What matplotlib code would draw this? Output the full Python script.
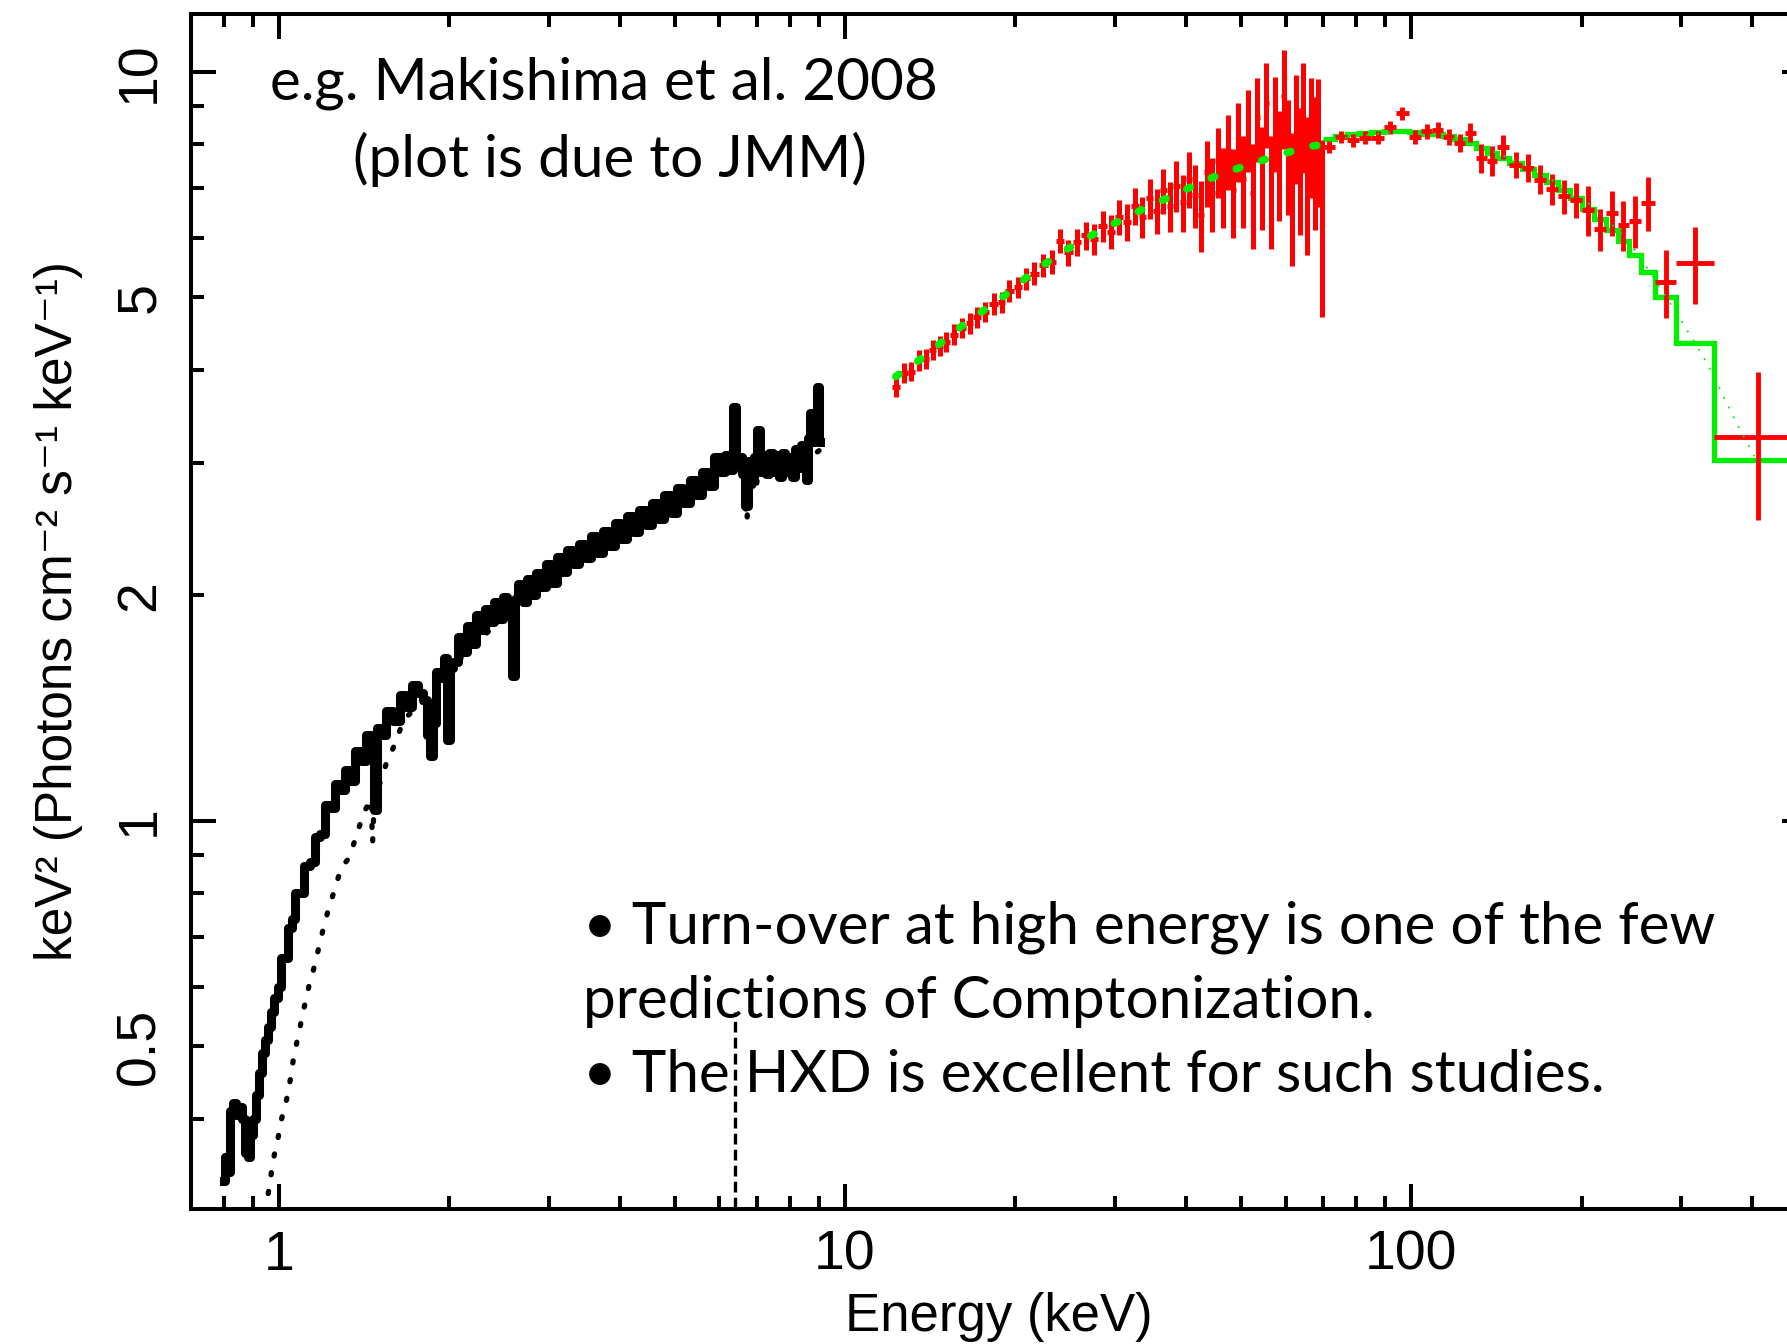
import matplotlib.pyplot as plt
from matplotlib import font_manager
import numpy as np

# narrow Helvetica-like face for the axes text, if it is there
_names = {f.name for f in font_manager.fontManager.ttflist}
AXFONT = 'Liberation Sans Narrow' if 'Liberation Sans Narrow' in _names else 'Liberation Sans'
plt.rcParams['font.family'] = [AXFONT, 'DejaVu Sans']

# XIS spectrum (black), keV and keV^2 photons cm^-2 s^-1 keV^-1
xis_e = [0.800, 0.808, 0.816, 0.826, 0.836, 0.846, 0.856, 0.866, 0.876, 0.886,
         0.897, 0.907, 0.917, 0.926, 0.940, 0.953, 0.965, 0.976, 0.990, 1.004,
         1.018, 1.033, 1.047, 1.06, 1.08, 1.10, 1.12, 1.148, 1.17, 1.196,
         1.22, 1.245, 1.27, 1.297, 1.32, 1.35, 1.38, 1.41, 1.44, 1.466,
         1.48, 1.50, 1.53, 1.57, 1.61, 1.66, 1.70, 1.74, 1.78, 1.81,
         1.84, 1.86, 1.88, 1.91, 1.94, 1.97, 2.00, 2.02, 2.05, 2.09,
         2.13, 2.17, 2.21, 2.25, 2.29, 2.33, 2.38, 2.42, 2.46, 2.51,
         2.56, 2.60, 2.63, 2.67, 2.72, 2.77, 2.82, 2.88, 2.94, 3.00,
         3.06, 3.13, 3.20, 3.27, 3.35, 3.43, 3.51, 3.60, 3.69, 3.78,
         3.87, 3.97, 4.07, 4.17, 4.28, 4.39, 4.50, 4.62, 4.74, 4.86,
         4.99, 5.12, 5.25, 5.38, 5.52, 5.66, 5.80, 5.95, 6.08, 6.20,
         6.30, 6.39, 6.46, 6.55, 6.63, 6.71, 6.79, 6.87, 6.95, 7.03,
         7.11, 7.20, 7.30, 7.40, 7.50, 7.60, 7.70, 7.80, 7.90, 8.00,
         8.10, 8.20, 8.30, 8.40, 8.50, 8.56, 8.64, 8.74, 8.82, 8.90,
         8.95, 9.02]
xis_f = [0.33, 0.356, 0.34, 0.41, 0.42, 0.405, 0.415, 0.40, 0.36, 0.355,
         0.38, 0.40, 0.43, 0.46, 0.49, 0.51, 0.53, 0.555, 0.58, 0.60,
         0.655, 0.655, 0.72, 0.74, 0.80, 0.80, 0.87, 0.88, 0.95, 0.96,
         1.05, 1.04, 1.12, 1.10, 1.17, 1.13, 1.24, 1.20, 1.30, 1.27,
         1.034, 1.33, 1.30, 1.40, 1.36, 1.47, 1.42, 1.52, 1.48, 1.45,
         1.30, 1.22, 1.35, 1.58, 1.55, 1.65, 1.28, 1.60, 1.63, 1.76,
         1.68, 1.82, 1.72, 1.88, 1.80, 1.92, 1.84, 1.96, 1.86, 1.99,
         1.90, 1.56, 1.98, 2.07, 1.96, 2.10, 2.00, 2.14, 2.05, 2.20,
         2.08, 2.25, 2.15, 2.30, 2.20, 2.34, 2.24, 2.40, 2.28, 2.44,
         2.33, 2.50, 2.38, 2.55, 2.43, 2.60, 2.48, 2.66, 2.53, 2.72,
         2.58, 2.78, 2.66, 2.85, 2.72, 2.92, 2.80, 3.06, 2.92, 3.08,
         2.94, 3.57, 2.98, 3.06, 2.90, 2.63, 3.02, 2.88, 3.06, 3.33,
         2.92, 3.08, 2.90, 3.10, 2.92, 3.08, 2.88, 3.10, 2.92, 3.06,
         2.88, 3.14, 2.96, 3.18, 3.00, 2.85, 3.24, 3.50, 3.20, 3.38,
         3.80, 3.20]

# XIS model component (black dotted)
xmod_e = [0.945, 0.964, 0.976, 0.996, 1.012, 1.033, 1.05, 1.063, 1.085, 1.107,
          1.13, 1.158, 1.177, 1.20, 1.225, 1.26, 1.29, 1.33, 1.37, 1.41,
          1.455, 1.465, 1.475, 1.496, 1.55, 1.60, 1.66, 1.75, 1.84, 1.95,
          2.1, 2.4, 2.8, 3.3, 4.0, 4.8, 5.6, 6.2, 6.6, 6.71,
          6.8, 6.93, 7.05, 7.5, 8.2, 9.0]
xmod_f = [0.30, 0.326, 0.35, 0.375, 0.40, 0.425, 0.454, 0.484, 0.52, 0.56,
          0.60, 0.642, 0.677, 0.72, 0.763, 0.816, 0.868, 0.89, 0.952, 1.02,
          1.07, 0.935, 1.07, 1.10, 1.195, 1.26, 1.36, 1.42, 1.46, 1.55,
          1.65, 1.82, 2.02, 2.22, 2.42, 2.63, 2.82, 2.92, 2.93, 2.51,
          2.92, 2.74, 2.93, 2.92, 2.97, 3.12]

# iron line component
fe_e = [6.4, 6.4]
fe_f = [0.25, 0.556]

# HXD-PIN data (red) and model (green dotted)
pin_e = [12.3, 12.7, 13.1, 13.5, 13.9, 14.3, 14.7, 15.1, 15.6, 16.1,
         16.6, 17.1, 17.7, 18.3, 18.9, 19.5, 20.2, 20.9, 21.6, 22.4,
         23.2, 24.0, 24.8, 25.7, 26.6, 27.5, 28.5, 29.5, 30.5, 31.5,
         32.5, 33.5, 34.5, 35.5, 36.5, 37.5, 38.5, 39.5, 40.5, 41.5,
         42.5, 43.5, 44.5, 45.5, 46.5, 47.5, 48.5, 49.5, 50.5, 51.5,
         52.5, 53.5, 54.5, 55.5, 56.5, 57.5, 58.5, 59.5, 60.5, 61.5,
         62.5, 63.5, 64.5, 65.5, 66.5, 67.5, 68.5, 69.5]
pin_f = [3.80, 3.96, 3.98, 4.12, 4.14, 4.25, 4.31, 4.36, 4.46, 4.55,
         4.62, 4.70, 4.78, 4.90, 4.93, 5.10, 5.16, 5.30, 5.38, 5.52,
         5.58, 5.95, 5.74, 5.92, 6.05, 5.98, 6.22, 6.12, 6.40, 6.30,
         6.62, 6.40, 6.78, 6.52, 6.95, 6.62, 7.05, 6.70, 7.20, 6.85,
         6.45, 7.35, 6.90, 7.60, 7.05, 7.85, 6.95, 8.10, 7.20, 8.40,
         6.90, 8.70, 7.30, 9.10, 7.00, 8.60, 7.60, 9.30, 7.80, 6.90,
         8.50, 7.50, 8.80, 7.20, 8.30, 7.70, 8.20, 6.40]
pin_err = [0.12, 0.12, 0.12, 0.13, 0.13, 0.13, 0.13, 0.14, 0.14, 0.14,
           0.15, 0.15, 0.15, 0.16, 0.16, 0.17, 0.17, 0.18, 0.19, 0.20,
           0.21, 0.22, 0.23, 0.24, 0.26, 0.28, 0.30, 0.32, 0.34, 0.36,
           0.38, 0.40, 0.42, 0.45, 0.48, 0.50, 0.55, 0.58, 0.62, 0.66,
           0.70, 0.74, 0.78, 0.82, 0.86, 0.90, 0.94, 0.98, 1.02, 1.06,
           1.10, 1.12, 1.15, 1.18, 1.20, 1.24, 1.28, 1.40, 1.36, 1.40,
           1.42, 1.45, 1.48, 1.50, 1.52, 1.55, 1.60, 1.70]
pmod_e = [12.3, 13.4, 14.4, 15.5, 16.7, 18.2, 19.5, 21.0, 22.7, 24.6, 26.7,
          29.1, 31.6, 34.5, 37.8, 41.0, 44.8, 49.3, 53.9, 58.8, 64.5, 69.8]
pmod_f = [3.92, 4.10, 4.28, 4.48, 4.68, 4.89, 5.08, 5.33, 5.56, 5.79, 6.00,
          6.21, 6.41, 6.62, 6.83, 7.03, 7.24, 7.43, 7.60, 7.75, 7.93, 8.00]

# HXD-GSO bins, data (red) and folded model (green steps)
gso_edges = [70, 73.5, 77, 81, 85, 89.5, 94, 99, 104, 109, 114, 119, 124.5,
             130, 136, 142, 149, 157, 165, 173, 182, 191, 200, 210, 221,
             232, 242, 255, 270, 294, 343, 490]
gso_f = [7.94, 8.19, 8.11, 8.17, 8.17, 8.44, 8.81, 8.19, 8.33, 8.37, 8.19,
         8.04, 8.30, 7.67, 7.61, 7.94, 7.52, 7.44, 7.18, 6.97, 6.82, 6.75,
         6.54, 6.16, 6.48, 6.24, 6.32, 6.69, 5.24, 5.55, 3.25]
gso_err = [0.15, 0.15, 0.16, 0.16, 0.17, 0.17, 0.18, 0.18, 0.19, 0.20, 0.21,
           0.22, 0.24, 0.35, 0.35, 0.30, 0.30, 0.32, 0.32, 0.33, 0.35, 0.36,
           0.50, 0.40, 0.45, 0.48, 0.50, 0.55, 0.55, 0.65, 0.73]
gso_mod = [8.14, 8.20, 8.25, 8.29, 8.32, 8.33, 8.33, 8.31, 8.27, 8.26, 8.21,
           8.14, 8.03, 7.91, 7.79, 7.67, 7.55, 7.42, 7.28, 7.12, 6.96, 6.78,
           6.57, 6.36, 6.15, 5.94, 5.70, 5.41, 5.01, 4.34, 3.03]
# unfolded model through the GSO band (thin dotted green)
gcont_e = [70, 95, 125, 160, 200, 240, 266, 298, 334, 373, 410]
gcont_f = [8.10, 8.33, 8.10, 7.50, 6.80, 6.00, 5.36, 4.69, 4.07, 3.43, 3.00]

RED = '#ff0000'
GREEN = '#00ee00'

fig = plt.figure(figsize=(17.87, 13.44), dpi=100)
ax = fig.add_axes([191 / 1787, 135 / 1344, 1616 / 1787, 1195 / 1344])
ax.set_xscale('log')
ax.set_yscale('log')

ax.plot(xis_e, xis_f, color='black', lw=6.5, drawstyle='steps-mid',
        solid_joinstyle='round')
ax.plot(xmod_e, xmod_f, color='black', lw=3.8, ls=(0, (0.4, 3.2)),
        dash_capstyle='round')
ax.plot(fe_e, fe_f, color='black', lw=2.4, ls=(0, (3.2, 1.6)))

pe = np.array(pin_e)
pedge = np.sqrt(pe[1:] * pe[:-1])
plo = pe - np.concatenate([[pe[0] ** 2 / pedge[0]], pedge])
phi = np.concatenate([pedge, [pe[-1] ** 2 / pedge[-1]]]) - pe
ax.errorbar(pin_e, pin_f, yerr=pin_err, xerr=[plo, phi], fmt='none',
            ecolor=RED, elinewidth=3.6, capsize=0)
ax.plot(pmod_e, pmod_f, color=GREEN, lw=5.5, ls=(0, (0.5, 3.0)),
        dash_capstyle='round')

ge = np.array(gso_edges, dtype=float)
gc = np.sqrt(ge[1:] * ge[:-1])
ax.errorbar(gc, gso_f, yerr=gso_err, xerr=[gc - ge[:-1], ge[1:] - gc],
            fmt='none', ecolor=RED, elinewidth=3.5, capsize=0)
ax.plot(gcont_e, gcont_f, color=GREEN, lw=1.3, ls=(0, (1, 5)))
ax.stairs(gso_mod, gso_edges, color=GREEN, lw=3.8, baseline=None)

ax.set_xlim(0.7, 500)
ax.set_ylim(0.303, 11.95)

ax.set_xticks([1, 10, 100], labels=['1', '10', '100'])
ax.set_xticks([0.8, 0.9] + list(range(2, 10)) + list(range(20, 100, 10))
              + [200, 300, 400], minor=True)
ax.xaxis.set_minor_formatter(plt.NullFormatter())
ax.set_yticks([1, 10], labels=['1', '10'])
ymin = [0.4, 0.5, 0.6, 0.7, 0.8, 0.9, 2, 3, 4, 5, 6, 7, 8, 9]
ylab = {0.5: '0.5', 2: '2', 5: '5'}
ax.set_yticks(ymin, labels=[ylab.get(v, '') for v in ymin], minor=True)

ax.tick_params(which='both', direction='in', top=True, right=True,
               width=2.9, color='black')
ax.tick_params(which='major', length=18)
ax.tick_params(which='minor', length=9.5)
ax.tick_params(axis='x', which='both', labelsize=40, pad=15)
ax.tick_params(axis='y', which='both', labelsize=40, pad=18, labelrotation=90)
for lbl in ax.get_yticklabels(which='both'):
    lbl.set_va('center')
for s in ax.spines.values():
    s.set_linewidth(2.9)

ax.set_xlabel('Energy (keV)', fontsize=38, labelpad=7)
ax.set_ylabel('keV² (Photons cm⁻² s⁻¹ keV⁻¹)', fontsize=37, labelpad=22)

tfont = dict(family=['Lato', 'DejaVu Sans'], fontsize=42, va='baseline', ha='left')
fig.text(270 / 1787, 1 - 100 / 1344, 'e.g. Makishima et al. 2008', **tfont)
fig.text(353 / 1787, 1 - 177 / 1344, '(plot is due to JMM)', **tfont)
fig.text(583 / 1787, 1 - 944 / 1344, '• Turn-over at high energy is one of the few', **tfont)
fig.text(583 / 1787, 1 - 1018 / 1344, 'predictions of Comptonization.', **tfont)
fig.text(583 / 1787, 1 - 1092 / 1344, '• The HXD is excellent for such studies.', **tfont)

fig.savefig('out.png', dpi=100, facecolor='white')
